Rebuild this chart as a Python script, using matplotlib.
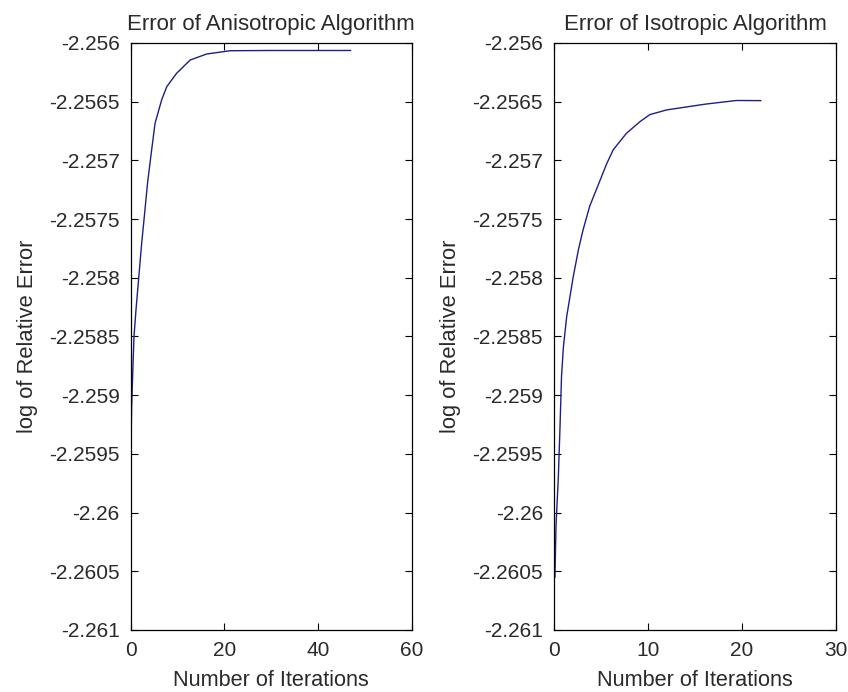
import numpy as np
import matplotlib
matplotlib.use('Agg')
import matplotlib.pyplot as plt

# values
aniso_iter = [0, 0.0, 0.2, 0.7, 1.13, 1.62, 2.35, 2.9, 3.6, 4.47, 5.2, 6.6, 7.7,
              9.8, 12.7, 16.2, 21.2, 30.0, 40.0, 46.9]
aniso_err = [-2.26009, -2.25960, -2.25910, -2.258505, -2.258275, -2.258045,
             -2.257704, -2.257482, -2.257193, -2.256912, -2.256684, -2.256486,
             -2.256372, -2.256258, -2.256145, -2.256094, -2.256066, -2.256064,
             -2.256064, -2.256064]

iso_iter = [0, 0.1, 0.21, 0.46, 0.64, 0.8, 1.0, 1.35, 2.05, 2.6, 3.1, 3.8, 4.9,
            5.6, 6.3, 7.7, 9.15, 10.2, 12.0, 14.5, 16.2, 19.4, 22.0]
iso_err = [-2.26056, -2.26055, -2.26012, -2.25970, -2.25927, -2.25884,
           -2.25859, -2.25833, -2.25799, -2.25776, -2.25759, -2.25739,
           -2.25717, -2.25703, -2.25691, -2.25677, -2.25667, -2.25661,
           -2.25657, -2.25654, -2.25652, -2.25649, -2.256491]

ytick_vals = [-2.261, -2.2605, -2.26, -2.2595, -2.259, -2.2585, -2.258,
              -2.2575, -2.257, -2.2565, -2.256]

plt.rcParams['font.family'] = ['Liberation Sans', 'DejaVu Sans']

fig = plt.figure(figsize=(8.48, 6.92), dpi=100)

ax1 = fig.add_axes([0.1541, 0.0896, 0.3317, 0.8483])
ax2 = fig.add_axes([0.6533, 0.0896, 0.3325, 0.8483])

line_col = '#1e1e86'
text_col = '#2a2a2a'

panels = [
    (ax1, aniso_iter, aniso_err, [0, 20, 40, 60], 'Error of Anisotropic Algorithm'),
    (ax2, iso_iter, iso_err, [0, 10, 20, 30], 'Error of Isotropic Algorithm'),
]

for ax, xs, ys, xt, title in panels:
    ax.plot(xs, ys, color=line_col, linewidth=1.0)
    ax.set_xlim(xt[0], xt[-1])
    ax.set_ylim(-2.261, -2.256)
    ax.set_xticks(xt)
    ax.set_xticklabels([str(v) for v in xt])
    ax.set_yticks(ytick_vals)
    ax.set_yticklabels(['{:g}'.format(round(v, 4)) for v in ytick_vals])
    ax.tick_params(direction='in', length=5, width=0.8, top=True, right=True,
                   labelcolor=text_col, color='black', labelsize=15)
    ax.tick_params(axis='x', pad=8)
    ax.tick_params(axis='y', pad=8)
    for sp in ax.spines.values():
        sp.set_linewidth(0.9)
    ax.set_title(title, color=text_col, fontsize=16, pad=9)
    ax.set_xlabel('Number of Iterations', color=text_col, fontsize=15.6, labelpad=7)
    ax.set_ylabel('log of Relative Error', color=text_col, fontsize=15.8, labelpad=8)

fig.savefig('out.png', dpi=100)
